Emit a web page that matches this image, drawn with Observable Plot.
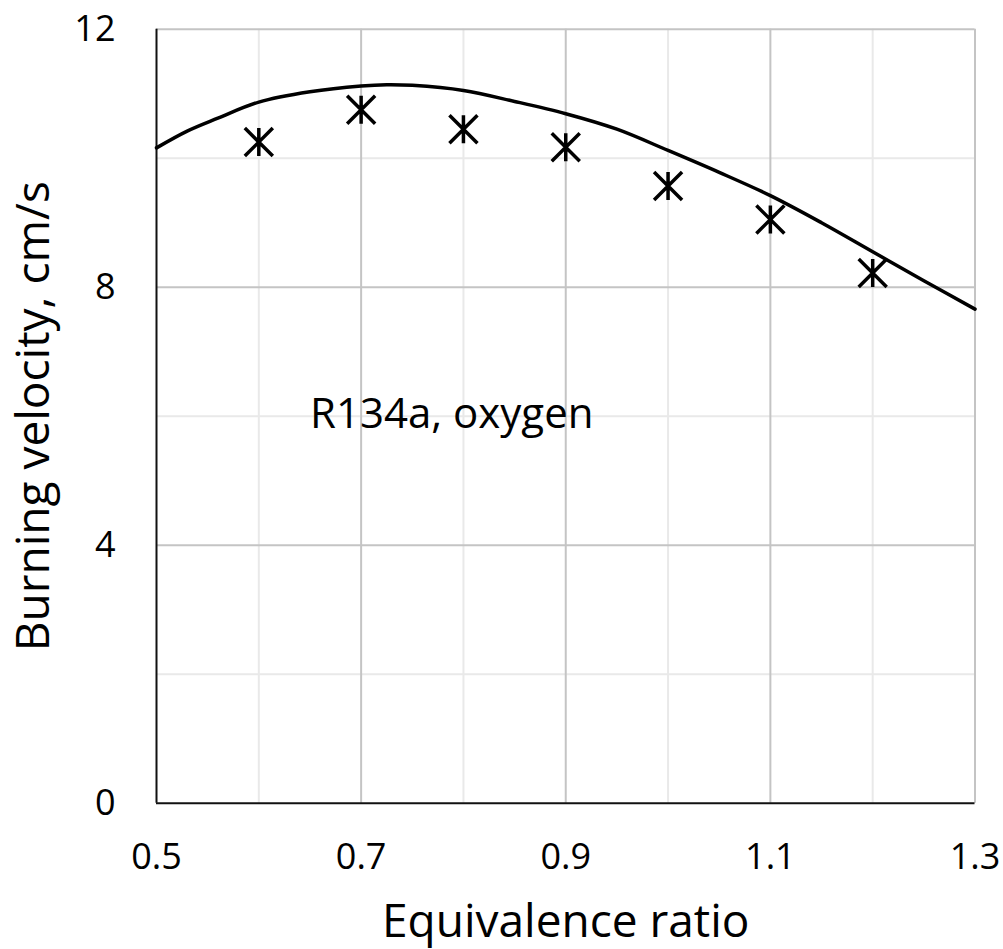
<!DOCTYPE html>
<html>
<head>
<meta charset="utf-8">
<script src="https://cdn.jsdelivr.net/npm/d3@7"></script>
<script src="https://cdn.jsdelivr.net/npm/@observablehq/plot@0.6"></script>
<style>
  html, body { margin: 0; padding: 0; background: #fff; }
  svg { display: block; }
</style>
</head>
<body>
<div id="chart"></div>
<script>
// Measured points (asterisks)
const phiPoints = [0.6, 0.7, 0.8, 0.9, 1.0, 1.1, 1.2];
const velocityPoints = [10.25, 10.75, 10.45, 10.17, 9.57, 9.05, 8.22];

// Computed curve
const phiCurve = [0.50, 0.53, 0.56, 0.60, 0.65, 0.70, 0.725, 0.75, 0.80, 0.85, 0.90, 0.95, 1.00, 1.05, 1.10, 1.15, 1.20, 1.25, 1.30];
const velocityCurve = [10.16, 10.42, 10.62, 10.87, 11.03, 11.12, 11.14, 11.13, 11.05, 10.88, 10.69, 10.45, 10.12, 9.78, 9.42, 9.00, 8.55, 8.10, 7.66];

// Axes
const xTicks = [0.5, 0.7, 0.9, 1.1, 1.3];
const xMinor = [0.6, 0.8, 1.0, 1.2];
const yTicks = [0, 4, 8, 12];
const yMinor = [2, 6, 10];
const xTitle = ["Equivalence ratio"];
const yTitle = ["Burning velocity, cm/s"];
const annotationText = ["R134a, oxygen"];
const annotationPos = [0.65, 6.03];

const points = phiPoints.map((x, i) => ({x, y: velocityPoints[i]}));
const curve = phiCurve.map((x, i) => ({x, y: velocityCurve[i]}));

const asterisk = {
  draw(context, size) {
    const r = Math.sqrt(size / Math.PI);
    context.moveTo(0, -r); context.lineTo(0, r);
    context.moveTo(-r, -r); context.lineTo(r, r);
    context.moveTo(r, -r); context.lineTo(-r, r);
  }
};

const font = "'Open Sans', 'DejaVu Sans', sans-serif";

const chart = Plot.plot({
  width: 1003,
  height: 949,
  marginLeft: 156,
  marginRight: 28.5,
  marginTop: 28.7,
  marginBottom: 146.3,
  style: {fontFamily: font, color: "#000", background: "#fff", overflow: "visible"},
  x: {domain: [0.5, 1.3]},
  y: {domain: [0, 12]},
  marks: [
    Plot.ruleX(xMinor, {stroke: "#e9e9e9", strokeWidth: 2}),
    Plot.ruleY(yMinor, {stroke: "#e9e9e9", strokeWidth: 2}),
    Plot.ruleX(xTicks.slice(1), {stroke: "#c4c4c4", strokeWidth: 2}),
    Plot.ruleY(yTicks.slice(1), {stroke: "#c4c4c4", strokeWidth: 2}),
    Plot.ruleX([0.5], {stroke: "#111", strokeWidth: 2}),
    Plot.ruleY([0], {stroke: "#111", strokeWidth: 2}),
    Plot.axisX({ticks: xTicks, tickSize: 0, tickPadding: 40, tickFormat: d3.format(".1f"), fontSize: 36, label: null}),
    Plot.axisY({ticks: yTicks, tickSize: 0, tickPadding: 41, tickFormat: d3.format("d"), fontSize: 36, label: null}),
    Plot.line(curve, {x: "x", y: "y", curve: "catmull-rom", stroke: "#000", strokeWidth: 3.5}),
    Plot.dot(points, {x: "x", y: "y", symbol: asterisk, r: 14, stroke: "#000", strokeWidth: 3.5, fill: "none"}),
    Plot.text(annotationText, {x: () => annotationPos[0], y: () => annotationPos[1], text: d => d, textAnchor: "start", fontSize: 42, fill: "#000"}),
    Plot.text(xTitle, {frameAnchor: "bottom", lineAnchor: "middle", text: d => d, dy: 119, fontSize: 46, fill: "#000"}),
    Plot.text(yTitle, {frameAnchor: "left", textAnchor: "middle", text: d => d, rotate: -90, dx: -122, fontSize: 46, fill: "#000"})
  ]
});

document.getElementById("chart").appendChild(chart);
</script>
</body>
</html>
